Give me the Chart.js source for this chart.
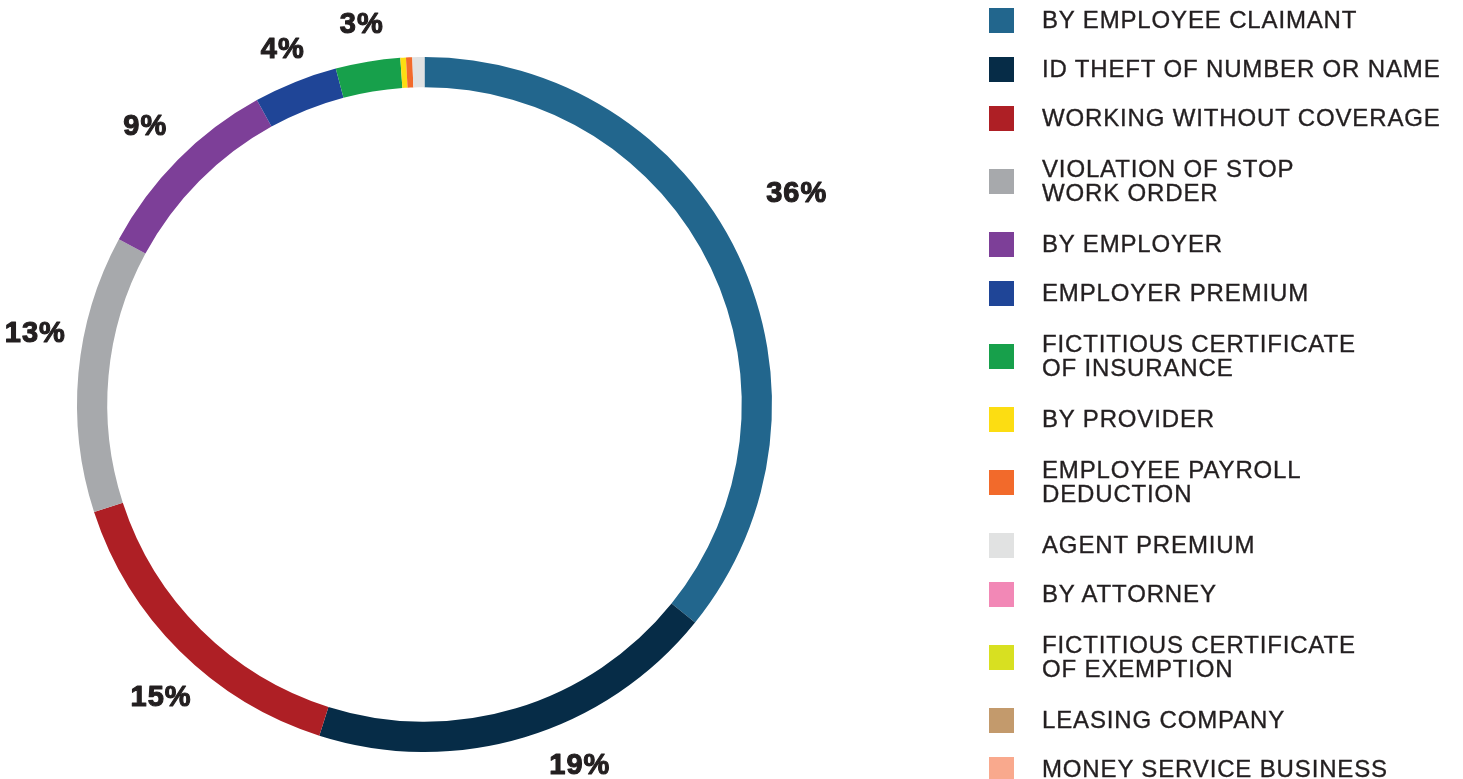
<!DOCTYPE html>
<html>
<head>
<meta charset="utf-8">
<script src="https://cdn.jsdelivr.net/npm/chart.js@4/dist/chart.umd.min.js"></script>
<style>
  html, body { margin: 0; padding: 0; background: #ffffff; }
  body { width: 1463px; height: 779px; position: relative; overflow: hidden; }
  #chart { position: absolute; left: 0; top: 0; }
  #legend {
    position: absolute; left: 989px; top: -4px; width: 474px;
    font-family: "Liberation Sans", Arial, sans-serif; font-size: 24px;
    color: #231f20; letter-spacing: 0.85px; -webkit-text-stroke: 0.35px #231f20;
  }
  .item { display: flex; align-items: center; height: 49px; }
  .item.two { height: 77px; }
  .sw { width: 25px; height: 25px; flex: 0 0 25px; margin-right: 28px; }
  .txt { line-height: 24px; white-space: nowrap; position: relative; top: -1px; }
</style>
</head>
<body>
<canvas id="chart" width="1463" height="779"></canvas>
<div id="legend"></div>
<script>
// ---- data ----
const categories = [
  'BY EMPLOYEE CLAIMANT',
  'ID THEFT OF NUMBER OR NAME',
  'WORKING WITHOUT COVERAGE',
  ['VIOLATION OF STOP', 'WORK ORDER'],
  'BY EMPLOYER',
  'EMPLOYER PREMIUM',
  ['FICTITIOUS CERTIFICATE', 'OF INSURANCE'],
  'BY PROVIDER',
  ['EMPLOYEE PAYROLL', 'DEDUCTION'],
  'AGENT PREMIUM',
  'BY ATTORNEY',
  ['FICTITIOUS CERTIFICATE', 'OF EXEMPTION'],
  'LEASING COMPANY',
  'MONEY SERVICE BUSINESS'
];
const shares = [35.8, 19.1, 15.1, 12.9, 9.1, 3.9, 3.0, 0.26, 0.29, 0.56, 0, 0, 0, 0];
const sliceColors = [
  '#22668d', '#062c47', '#ae1f25', '#a7a9ac', '#7d3f98', '#1f4597', '#17a04b',
  '#fcdd12', '#f26a2b', '#e1e2e2', '#f288b6', '#d8e021', '#c39a6c', '#f9a98d'
];

// ---- legend (HTML, built from the arrays) ----
const legendEl = document.getElementById('legend');
categories.forEach((lab, i) => {
  const lines = Array.isArray(lab) ? lab : [lab];
  const item = document.createElement('div');
  item.className = 'item' + (lines.length > 1 ? ' two' : '');
  const sw = document.createElement('div');
  sw.className = 'sw';
  sw.style.background = sliceColors[i];
  const txt = document.createElement('div');
  txt.className = 'txt';
  lines.forEach((l, k) => {
    if (k) txt.appendChild(document.createElement('br'));
    txt.appendChild(document.createTextNode(l));
  });
  item.appendChild(sw);
  item.appendChild(txt);
  legendEl.appendChild(item);
});

// ---- percentage labels around the ring ----
const pctLabels = {
  id: 'pctLabels',
  afterDatasetsDraw(chart, args, opts) {
    const ctx = chart.ctx;
    const meta = chart.getDatasetMeta(0);
    const data = chart.data.datasets[0].data;
    ctx.save();
    ctx.font = opts.font;
    ctx.fillStyle = opts.color;
    ctx.strokeStyle = opts.color;
    ctx.lineWidth = 1.1;
    ctx.lineJoin = 'round';
    ctx.textAlign = 'center';
    ctx.textBaseline = 'middle';
    if ('letterSpacing' in ctx) ctx.letterSpacing = '1px';
    meta.data.forEach((arc, i) => {
      const v = data[i];
      if (v < opts.minValue) return;
      const p = arc.getProps(['x', 'y', 'startAngle', 'endAngle', 'outerRadius'], true);
      const n = opts.nudge[i] || {a: 0, r: 0};
      const ang = (p.startAngle + p.endAngle) / 2 + n.a * Math.PI / 180;
      const r = p.outerRadius + opts.gap + n.r;
      const tx = p.x + Math.cos(ang) * r;
      const ty = p.y + Math.sin(ang) * r;
      const s = Math.round(v) + '%';
      ctx.fillText(s, tx, ty);
      ctx.strokeText(s, tx, ty);
    });
    ctx.restore();
  }
};

new Chart(document.getElementById('chart'), {
  type: 'doughnut',
  data: {
    labels: categories,
    datasets: [{
      data: shares,
      backgroundColor: sliceColors,
      borderWidth: 0,
      hoverBorderWidth: 0,
      hoverOffset: 0,
      offset: 0
    }]
  },
  options: {
    responsive: false,
    animation: false,
    events: [],
    cutout: '91.3%',
    rotation: 0,
    layout: { padding: { left: 77, top: 57, right: 691, bottom: 27 } },
    plugins: {
      legend: { display: false },
      tooltip: { enabled: false },
      pctLabels: {
        font: 'bold 29px "Liberation Sans", Arial, sans-serif',
        color: '#231f20',
        minValue: 2.5,
        gap: 46,
        nudge: {
          0: {a: -3.9, r: 34},
          1: {a: -6.5, r: 0},
          2: {a: -2.9, r: 1},
          3: {a: 5.1, r: 2},
          4: {a: 0, r: 0},
          5: {a: 0, r: -12},
          6: {a: 0, r: -9}
        }
      }
    }
  },
  plugins: [pctLabels]
});
</script>
</body>
</html>
